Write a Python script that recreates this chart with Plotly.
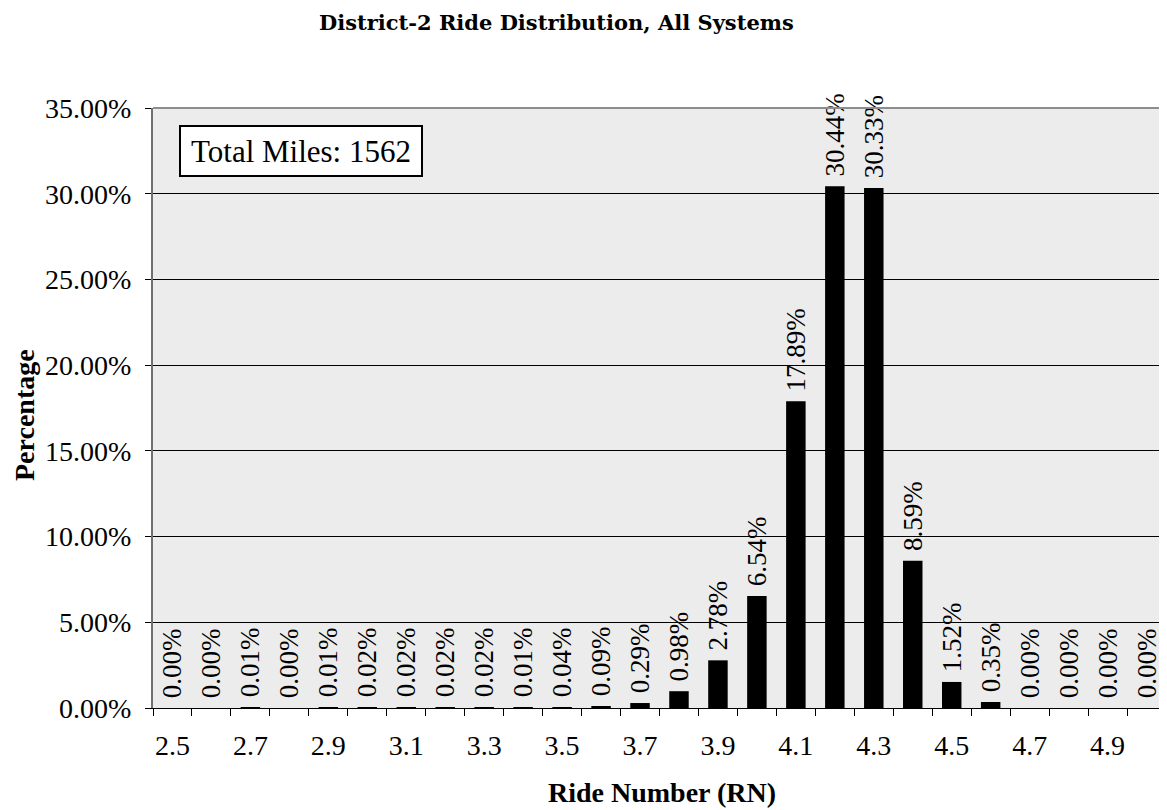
import plotly.graph_objects as go

ride_number = [2.5, 2.6, 2.7, 2.8, 2.9, 3.0, 3.1, 3.2, 3.3, 3.4, 3.5, 3.6, 3.7,
               3.8, 3.9, 4.0, 4.1, 4.2, 4.3, 4.4, 4.5, 4.6, 4.7, 4.8, 4.9, 5.0]
percentage = [0.0000, 0.0000, 0.0001, 0.0000, 0.0001, 0.0002, 0.0002, 0.0002, 0.0002,
              0.0001, 0.0004, 0.0009, 0.0029, 0.0098, 0.0278, 0.0654, 0.1789, 0.3044,
              0.3033, 0.0859, 0.0152, 0.0035, 0.0000, 0.0000, 0.0000, 0.0000]
x_tick_values = [2.5, 2.7, 2.9, 3.1, 3.3, 3.5, 3.7, 3.9, 4.1, 4.3, 4.5, 4.7, 4.9]
x_tick_labels = ["2.5", "2.7", "2.9", "3.1", "3.3", "3.5", "3.7", "3.9", "4.1", "4.3", "4.5", "4.7", "4.9"]
y_tick_values = [0, 0.05, 0.10, 0.15, 0.20, 0.25, 0.30, 0.35]

SERIF = "Liberation Serif, Times New Roman, serif"
TITLE_FONT = "DejaVu Serif, serif"

# plot area in screen pixels (page has 8px body margin)
PL, PR, PT, PB = 153, 1166, 108, 708
PW, PH = PR - PL, PB - PT


def px(x):
    return (x - PL) / PW


def py(y):
    return (PB - y) / PH


fig = go.Figure()
fig.add_trace(go.Bar(
    x=ride_number, y=percentage,
    marker=dict(color="black", line=dict(width=0)),
    width=0.05,
    texttemplate="\u00a0%{y:.2%}",
    textposition="outside",
    textangle=-90,
    constraintext="none",
    cliponaxis=False,
    textfont=dict(family=SERIF, size=27, color="black"),
))

fig.update_layout(
    width=1167, height=810,
    margin=dict(l=PL - 8, r=8 + 1167 - PR, t=PT - 8, b=810 - (PB - 8)),
    paper_bgcolor="white",
    plot_bgcolor="#ECECEC",
    showlegend=False,
    font=dict(family=SERIF, color="black"),
    xaxis=dict(
        range=[2.45, 5.05],
        tickvals=x_tick_values, ticktext=x_tick_labels,
        ticks="", ticklen=0,
        ticklabelstandoff=12,
        showgrid=False, zeroline=False,
        showline=True, linecolor="black", linewidth=1,
        tickfont=dict(family=SERIF, size=28, color="black"),
        minor=dict(tick0=2.45, dtick=0.1, ticks="outside", ticklen=7,
                   tickcolor="black", tickwidth=1, showgrid=False),
    ),
    yaxis=dict(
        range=[0, 0.35],
        tickvals=y_tick_values, tickformat=".2%",
        ticks="outside", ticklen=6, tickcolor="black",
        ticklabelstandoff=8,
        showgrid=True, gridcolor="black", gridwidth=1,
        zeroline=False,
        showline=True, linecolor="#707070", linewidth=2,
        tickfont=dict(family=SERIF, size=28, color="black"),
    ),
    shapes=[
        dict(type="line", xref="paper", yref="paper", x0=0, x1=1, y0=1, y1=1,
             line=dict(color="#8C8C8C", width=2)),
        dict(type="line", xref="paper", yref="paper", x0=1, x1=1, y0=0, y1=1,
             line=dict(color="#8C8C8C", width=2)),
    ],
    annotations=[
        dict(text="<b>District-2 Ride Distribution, All Systems</b>",
             xref="paper", yref="paper", x=px(556), y=py(22),
             xanchor="center", yanchor="middle", showarrow=False,
             font=dict(family=TITLE_FONT, size=21, color="black")),
        dict(text="Total Miles: 1562", xref="paper", yref="paper",
             x=px(301), y=py(151), xanchor="center", yanchor="middle",
             width=236, height=44, align="center", valign="middle",
             showarrow=False, bgcolor="white", bordercolor="black", borderwidth=2,
             borderpad=2, font=dict(family=SERIF, size=31, color="black")),
        dict(text="<b>Ride Number (RN)</b>", xref="paper", yref="paper",
             x=px(662), y=py(792), xanchor="center", yanchor="middle",
             showarrow=False, font=dict(family=SERIF, size=28, color="black")),
        dict(text="<b>Percentage</b>", xref="paper", yref="paper",
             x=px(24), y=py(415), xanchor="center", yanchor="middle",
             textangle=-90, showarrow=False,
             font=dict(family=SERIF, size=28, color="black")),
    ],
)

fig.write_html("out.html")
